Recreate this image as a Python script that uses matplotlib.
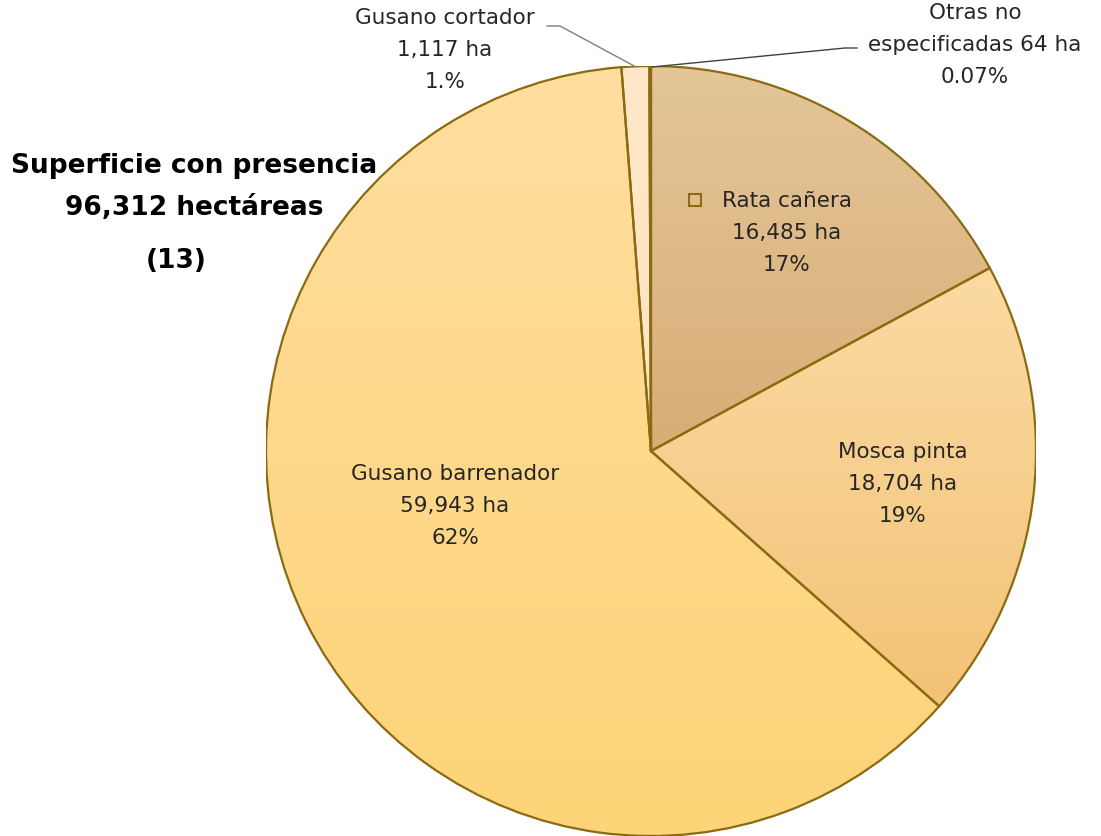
import numpy as np
import matplotlib.pyplot as plt
from matplotlib.colors import LinearSegmentedColormap
from matplotlib.patches import Wedge

# datos (orden horario desde las 12)
plagas = ['Rata cañera', 'Mosca pinta', 'Gusano barrenador', 'Gusano cortador', 'Otras no\nespecificadas']
hectareas = [16485, 18704, 59943, 1117, 64]
porcentajes = ['17%', '19%', '62%', '1.%', '0.07%']
total = 96312

# colores degradados (arriba, abajo) por rebanada
colores = [('#E4C698', '#D8AD76'),
           ('#FBDBA3', '#F3C277'),
           ('#FEDE9F', '#FED478'),
           ('#FEE8C8', '#FEE5C2'),
           ('#B8924A', '#B8924A')]
borde = '#8B6A12'

W, H = 1101, 837
cx, cy, R = 651, 452, 385


def a_datos(px, py):
    '''Convierte pixeles de la imagen a coordenadas del pie (radio 1).'''
    return (px - cx) / R, (cy - py) / R


fig = plt.figure(figsize=(W / 100, H / 100), dpi=100)
ax = fig.add_axes([(cx - R) / W, (H - cy - R) / H, 2 * R / W, 2 * R / H])
ax.axis('off')

wedges, _ = ax.pie(hectareas, startangle=90, counterclock=False, radius=1,
                   colors=[c[0] for c in colores],
                   wedgeprops=dict(edgecolor='none', linewidth=0))

# degradado vertical recortado a cada rebanada
for w, (c1, c2) in zip(wedges, colores):
    ext = w.get_path().get_extents(w.get_patch_transform())
    cmap = LinearSegmentedColormap.from_list('g', [c2, c1])
    grad = np.linspace(0, 1, 256).reshape(-1, 1)
    im = ax.imshow(grad, cmap=cmap, origin='lower', aspect='auto',
                   extent=[ext.x0, ext.x1, ext.y0, ext.y1], zorder=2)
    im.set_clip_path(w)

# bordes
for w in wedges:
    ax.add_patch(Wedge(w.center, w.r, w.theta1, w.theta2, facecolor='none',
                       edgecolor=borde, linewidth=1.6, zorder=3))

ax.set_xlim(-1, 1)
ax.set_ylim(-1, 1)
ax.set_aspect('equal')

fuente = 'DejaVu Sans'
txt = dict(ha='center', va='center', fontsize=15.5, color='#262626',
           family=fuente, linespacing=1.72, zorder=5)


def etiqueta(i):
    return '%s\n%s ha\n%s' % (plagas[i], format(hectareas[i], ','), porcentajes[i])


# etiquetas dentro
ax.text(*a_datos(787, 233), etiqueta(0), **txt)
ax.plot(*a_datos(695, 201), marker='s', ms=9, mfc='none', mec=borde, mew=1.5, zorder=5)
ax.text(*a_datos(903, 484), etiqueta(1), **txt)
ax.text(*a_datos(455, 506), etiqueta(2), **txt)

# etiquetas fuera con guia
ax.text(*a_datos(445, 50), etiqueta(3), clip_on=False, **txt)
x1, y1 = a_datos(547, 27)
x2, y2 = a_datos(560, 27)
x3, y3 = a_datos(636, 68)
ax.plot([x1, x2, x3], [y1, y2, y3], color='#7F7F7F', lw=1, clip_on=False, zorder=4)

ax.text(*a_datos(975, 45), 'Otras no\nespecificadas %s ha\n%s' % (hectareas[4], porcentajes[4]),
        clip_on=False, **txt)
x1, y1 = a_datos(857, 49)
x2, y2 = a_datos(845, 49)
x3, y3 = a_datos(652, 68)
ax.plot([x1, x2, x3], [y1, y2, y3], color='#404040', lw=1, clip_on=False, zorder=4)

# titulo a la izquierda
tit = dict(ha='center', va='center', fontsize=19, fontweight='bold', family=fuente, color='black')
fig.text(194 / W, 1 - 166 / H, 'Superficie con presencia', **tit)
fig.text(194 / W, 1 - 208 / H, '{:,} hectáreas'.format(total), **tit)
fig.text(176 / W, 1 - 261 / H, '(13)', **tit)

fig.savefig('out.png', dpi=100)
